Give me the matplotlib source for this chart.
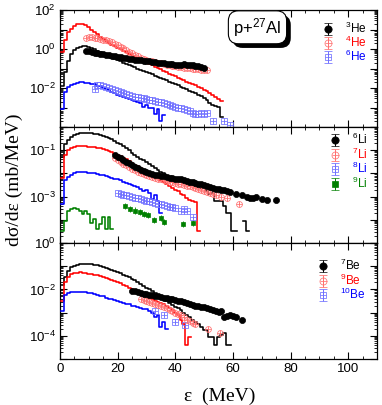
import numpy as np
import matplotlib
matplotlib.use("Agg")
import matplotlib.pyplot as plt
from matplotlib.ticker import MultipleLocator, LogLocator, FuncFormatter, NullFormatter
from matplotlib.legend_handler import HandlerTuple
from matplotlib import patheffects

plt.rcParams['font.family'] = ['Liberation Sans', 'DejaVu Sans']
plt.rcParams['mathtext.fontset'] = 'custom'
plt.rcParams['mathtext.rm'] = 'Liberation Sans'
plt.rcParams['mathtext.it'] = 'Liberation Sans:italic'

# ---------------- data (log10 of dsigma/de, mb/MeV) ----------------
# model histograms: 1-MeV bins starting at 0.5 MeV
he3_model = [-1.9, -1.2, -0.6, -0.25, -0.05, 0.05, 0.1, 0.13, 0.13, 0.1, 0.05, -0.02, -0.08, -0.15,
             -0.22, -0.3, -0.38, -0.45, -0.52, -0.58, -0.64, -0.7, -0.76, -0.82, -0.88, -0.94, -1.0,
             -1.06, -1.12, -1.18, -1.24, -1.3, -1.36, -1.42, -1.48, -1.54, -1.6, -1.67, -1.73, -1.8,
             -1.86, -1.93, -2.0, -2.07, -2.14, -2.2, -2.28, -2.35, -2.42, -2.5, -2.62, -2.75, -2.85,
             -2.9, -2.95, -3.5]
he4_model = [-0.15, 0.45, 0.85, 1.05, 1.18, 1.26, 1.29, 1.27, 1.22, 1.12, 1.0, 0.88, 0.75, 0.62,
             0.52, 0.42, 0.32, 0.23, 0.15, 0.07, -0.01, -0.09, -0.17, -0.25, -0.33, -0.4, -0.47,
             -0.55, -0.62, -0.7, -0.77, -0.84, -0.91, -0.98, -1.05, -1.12, -1.19, -1.26, -1.33, -1.4,
             -1.47, -1.54, -1.6, -1.67, -1.74, -1.8, -1.87, -1.94, -2.01, -2.08, -2.17, -2.25, -2.37,
             -2.45, -2.55, -2.68]
he6_model = [-3.1, -2.2, -1.95, -1.85, -1.78, -1.72, -1.7, -1.7, -1.72, -1.75, -1.8, -1.82, -1.88,
             -1.92, -1.98, -2.05, -2.1, -2.2, -2.28, -2.35, -2.4, -2.45, -2.5, -2.55, -2.62, -2.65,
             -2.72, -2.78, -2.95, -2.85, -3.05, -3.0, -3.35, -3.1, -3.7, -3.4]

li6_model = [-1.3, -0.75, -0.55, -0.42, -0.35, -0.3, -0.27, -0.26, -0.26, -0.27, -0.28, -0.3, -0.32,
             -0.35, -0.38, -0.42, -0.47, -0.52, -0.6, -0.67, -0.75, -0.83, -0.92, -1.0, -1.1, -1.2,
             -1.28, -1.36, -1.44, -1.52, -1.6, -1.68, -1.76, -1.85, -1.93, -2.0, -2.1, -2.17, -2.22,
             -2.27, -2.32, -2.37, -2.4, -2.45, -2.5, -2.52, -2.55, -2.6, -2.65, -2.6, -2.75, -2.9,
             -2.85, -3.2, -3.2, -3.2, -3.4, -3.7, -3.7, -4.5, -4.5, np.nan, np.nan, -4.05, -4.5]
li7_model = [-2.2, -1.2, -1.0, -0.92, -0.87, -0.84, -0.83, -0.83, -0.84, -0.85, -0.86, -0.88, -0.89,
             -0.9, -0.93, -0.97, -1.02, -1.08, -1.15, -1.2, -1.26, -1.33, -1.4, -1.48, -1.56, -1.63,
             -1.7, -1.78, -1.85, -1.92, -1.98, -2.05, -2.12, -2.2, -2.27, -2.35, -2.45, -2.53, -2.62,
             -2.7, -2.78, -2.87, -2.95, -3.05, -3.15, -3.2, -3.25, -4.5]
li8_model = [-3.3, -2.3, -2.15, -2.05, -2.0, -1.95, -1.93, -1.95, -1.93, -1.97, -1.98, -2.0, -2.03,
             -2.05, -2.08, -2.12, -2.15, -2.18, -2.22, -2.25, -2.3, -2.35, -2.4, -2.45, -2.5, -2.55,
             -2.6, -2.68, -2.75, -2.72, -2.85, -3.1, -2.95, -3.2, -3.7]
li9_model = [-4.48, -4.04, -3.6, -3.55, -3.48, -3.55, -3.6, -3.74, -3.6, -3.75, -4.13, -3.96, -4.39,
             -4.17, -3.9, -4.39, -3.9, -4.39]

be7_model = [-1.8, -1.45, -1.2, -1.05, -0.98, -0.93, -0.91, -0.9, -0.9, -0.9, -0.91, -0.93, -0.96,
             -0.99, -1.02, -1.06, -1.1, -1.15, -1.2, -1.25, -1.3, -1.36, -1.42, -1.48, -1.54, -1.6,
             -1.68, -1.76, -1.84, -1.92, -2.0, -2.08, -2.16, -2.24, -2.32, -2.4, -2.5, -2.58, -2.66,
             -2.74, -2.82, -2.9, -3.0, -3.1, -3.2, -3.3, -3.4, -3.5, -3.6, -3.75, -3.75, -4.05, -4.05,
             -4.4, -4.05, -3.95, -3.9, -4.4, -4.4]
be9_model = [-2.5, -1.7, -1.45, -1.35, -1.3, -1.28, -1.27, -1.28, -1.3, -1.32, -1.34, -1.37, -1.4,
             -1.43, -1.46, -1.5, -1.54, -1.58, -1.63, -1.68, -1.74, -1.8, -1.87, -1.94, -2.0, -2.07,
             -2.13, -2.2, -2.25, -2.3, -2.37, -2.42, -2.48, -2.53, -2.58, -2.65, -2.7, -2.8, -2.9,
             -3.0, -3.1, -3.3, -3.5, -4.4, -4.05]
be10_model = [-2.95, -2.25, -2.15, -2.12, -2.1, -2.1, -2.1, -2.1, -2.12, -2.15, -2.17, -2.2, -2.25,
              -2.28, -2.3, -2.35, -2.4, -2.42, -2.45, -2.5, -2.55, -2.57, -2.62, -2.65, -2.7, -2.7,
              -2.75, -2.8, -2.83, -2.85, -2.95, -3.0, -3.2, -3.1, -3.6, -3.4, -3.7]

# experimental points
he3_E = list(range(9, 51))
he3_data = [-0.08, -0.12, -0.15, -0.18, -0.21, -0.24, -0.27, -0.3, -0.33, -0.36, -0.38, -0.41,
            -0.43, -0.45, -0.48, -0.5, -0.52, -0.54, -0.56, -0.58, -0.6, -0.62, -0.64, -0.66, -0.68,
            -0.7, -0.72, -0.73, -0.75, -0.77, -0.78, -0.8, -0.81, -0.8, -0.79, -0.8, -0.81, -0.83,
            -0.85, -0.88, -0.92, -0.95]
he4_E = list(range(9, 52))
he4_data = [0.55, 0.6, 0.6, 0.58, 0.55, 0.52, 0.48, 0.44, 0.4, 0.35, 0.28, 0.2, 0.12, 0.04, -0.05,
            -0.14, -0.22, -0.3, -0.37, -0.44, -0.5, -0.55, -0.6, -0.64, -0.68, -0.71, -0.74, -0.77,
            -0.8, -0.83, -0.86, -0.88, -0.9, -0.93, -0.95, -0.97, -0.99, -1.01, -1.03, -1.05, -1.07,
            -1.09, -1.1]
he6_E = list(range(12, 52)) + [53, 57, 59]
he6_data = [-2.05, -1.85, -1.85, -1.9, -1.95, -2.0, -2.05, -2.1, -2.15, -2.2, -2.25, -2.3, -2.35,
            -2.4, -2.44, -2.47, -2.5, -2.53, -2.56, -2.6, -2.63, -2.66, -2.7, -2.74, -2.78, -2.82,
            -2.86, -2.9, -2.95, -3.0, -3.05, -3.1, -3.15, -3.2, -3.3, -3.35, -3.35, -3.3, -3.35, -3.3,
            -3.7, -3.7, -3.9]

li6_E = list(range(19, 58)) + [58, 59, 61, 63, 65, 66, 67, 68, 70, 72, 75]
li6_data = [-1.22, -1.28, -1.35, -1.42, -1.5, -1.57, -1.65, -1.72, -1.78, -1.84, -1.9, -1.95, -1.99,
            -2.02, -2.05, -2.08, -2.1, -2.13, -2.16, -2.18, -2.2, -2.22, -2.24, -2.26, -2.29, -2.32,
            -2.35, -2.38, -2.41, -2.44, -2.47, -2.5, -2.55, -2.6, -2.63, -2.66, -2.68, -2.7, -2.73,
            -2.78, -2.82, -2.88, -2.95, -3.0, -3.05, -3.05, -3.03, -3.12, -3.13, -3.13]
li7_E = list(range(19, 55)) + [56, 58, 62]
li7_data = [-1.35, -1.42, -1.5, -1.58, -1.65, -1.72, -1.8, -1.86, -1.92, -1.98, -2.03, -2.08, -2.12,
            -2.16, -2.2, -2.23, -2.26, -2.29, -2.32, -2.35, -2.38, -2.41, -2.44, -2.47, -2.5, -2.53,
            -2.56, -2.6, -2.64, -2.68, -2.72, -2.77, -2.82, -2.85, -2.9, -2.95, -3.0, -3.05, -3.3]
li8_E = list(range(20, 41)) + [42, 43, 44, 46]
li8_data = [-2.85, -2.9, -2.93, -2.95, -2.98, -3.0, -3.05, -3.08, -3.12, -3.15, -3.18, -3.2, -3.25,
            -3.28, -3.3, -3.33, -3.37, -3.4, -3.45, -3.45, -3.5, -3.6, -3.55, -3.6, -3.9]
li9_E = [22.6, 24.3, 26, 27.8, 29.3, 30.5, 32.7, 35, 36, 42.6, 46]
li9_data = [-3.39, -3.54, -3.6, -3.68, -3.75, -3.8, -4.0, -3.94, -4.1, -4.2, -4.15]

be7_E = list(range(25, 57)) + [57, 58, 59, 60, 61, 63]
be7_data = [-2.05, -2.08, -2.12, -2.15, -2.18, -2.2, -2.23, -2.26, -2.28, -2.3, -2.33, -2.36, -2.38,
            -2.4, -2.43, -2.46, -2.49, -2.52, -2.55, -2.58, -2.62, -2.66, -2.7, -2.73, -2.75, -2.78,
            -2.8, -2.83, -2.87, -2.92, -2.97, -2.95, -3.2, -3.15, -3.1, -3.15, -3.2, -3.3]
be9_E = list(range(28, 48)) + [51.5, 55.6]
be9_data = [-2.43, -2.47, -2.5, -2.55, -2.6, -2.65, -2.68, -2.72, -2.78, -2.82, -2.87, -2.92, -3.0,
            -3.05, -3.1, -3.2, -3.3, -3.35, -3.45, -3.5, -3.7, -3.9]
be10_E = [33, 36, 40, 43.5]
be10_data = [-2.95, -3.1, -3.4, -3.55]

x_ticks_labeled = [0, 20, 40, 60, 80, 100]

# ---------------- styles ----------------
BLACK, RED, BLUE, GREEN = 'black', '#ff0000', '#0000ff', '#008000'
LRED, LBLUE = '#ff7070', '#7070ff'

W, H = 382, 405
fig = plt.figure(figsize=(W / 100, H / 100), dpi=100)


def axpx(l, t, r, b):
    return fig.add_axes([l / W, 1 - b / H, (r - l) / W, (b - t) / H])


ax1 = axpx(60, 10, 377, 127)
ax2 = axpx(60, 127, 377, 243)
ax3 = axpx(60, 243, 377, 359)


def model(ax, vals, color, start=0.5):
    v = 10 ** np.array(vals, dtype=float)
    edges = start + np.arange(len(v) + 1)
    ax.plot(edges, np.append(v, v[-1]), drawstyle='steps-post', color=color, lw=1.15, zorder=3)


def style_of(kind):
    if kind == 'black':
        return dict(marker='o', ms=4.4, mfc=BLACK, mec=BLACK, mew=0.5), BLACK, None
    if kind == 'red':
        return (dict(marker='o', ms=4.2, mfc='none', mec=LRED, mew=0.55), LRED,
                dict(marker='+', ms=4.2, color=LRED, mew=0.55))
    if kind == 'blue':
        return (dict(marker='s', ms=3.7, mfc='none', mec=LBLUE, mew=0.55), LBLUE,
                dict(marker='+', ms=3.7, color=LBLUE, mew=0.55))
    return dict(marker='s', ms=3.5, mfc=GREEN, mec=GREEN, mew=0.5), GREEN, None


def points(ax, E, vals, kind, rel=0.15):
    y = 10 ** np.array(vals, dtype=float)
    mk, ec, over = style_of(kind)
    ax.errorbar(E, y, yerr=[y * rel / (1 + rel), y * rel], fmt='none', ecolor=ec, elinewidth=0.6, zorder=4)
    ax.plot(E, y, ls='none', zorder=5, **mk)
    if over:
        ax.plot(E, y, ls='none', zorder=5, **over)


def legend_handle(ax, kind):
    mk, ec, over = style_of(kind)
    mk = dict(mk)
    mk['ms'] = mk['ms'] * 1.2
    cont = ax.errorbar([np.nan], [np.nan], yerr=[np.nan], ecolor=ec, elinewidth=0.7, capsize=3,
                       capthick=0.7, ls='none', **mk)
    if over:
        o = dict(over)
        o['ms'] = o['ms'] * 1.2
        ln, = ax.plot([np.nan], [np.nan], ls='none', **o)
        return (cont, ln)
    return cont


def add_legend(ax, kinds, labels, colors, anchor, spacing):
    handles = [legend_handle(ax, k) for k in kinds]
    leg = ax.legend(handles, labels, loc='upper left', bbox_to_anchor=anchor, frameon=False,
                    fontsize=8.5, handlelength=1.0, handletextpad=0.9, labelspacing=spacing,
                    borderpad=0, borderaxespad=0, handler_map={tuple: HandlerTuple(ndivide=1)})
    for t, c in zip(leg.get_texts(), colors):
        t.set_color(c)
    return leg


# ---------------- top panel ----------------
model(ax1, he4_model, RED)
model(ax1, he3_model, BLACK)
model(ax1, he6_model, BLUE)
points(ax1, he6_E, he6_data, 'blue')
points(ax1, he4_E, he4_data, 'red')
points(ax1, he3_E, he3_data, 'black')
add_legend(ax1, ['black', 'red', 'blue'],
           [r'$^{3}$He', r'$^{4}$He', r'$^{6}$He'],
           [BLACK, RED, BLUE], (0.828, 0.906), -0.1)

# reaction box with drop shadow
box_txt = ax1.text(0.623, 0.852, r'p+$^{27}$Al', transform=ax1.transAxes, fontsize=12,
                   ha='center', va='center', color='black', zorder=7,
                   bbox=dict(boxstyle='round,pad=0.3,rounding_size=0.6', fc='white', ec='black', lw=0.8))
box_txt.get_bbox_patch().set_path_effects(
    [patheffects.SimplePatchShadow(offset=(3, -3), shadow_rgbFace='black', alpha=1.0),
     patheffects.Normal()])

# ---------------- middle panel ----------------
model(ax2, li6_model, BLACK)
model(ax2, li7_model, RED)
model(ax2, li8_model, BLUE)
model(ax2, li9_model, GREEN)
points(ax2, li8_E, li8_data, 'blue', 0.2)
points(ax2, li7_E, li7_data, 'red', 0.2)
points(ax2, li6_E, li6_data, 'black', 0.2)
points(ax2, li9_E, li9_data, 'green', 0.35)
add_legend(ax2, ['black', 'red', 'blue', 'green'],
           [r'$^{6}$Li', r'$^{7}$Li', r'$^{8}$Li', r'$^{9}$Li'],
           [BLACK, RED, BLUE, GREEN], (0.850, 0.957), -0.05)

# ---------------- bottom panel ----------------
model(ax3, be7_model, BLACK)
model(ax3, be9_model, RED)
model(ax3, be10_model, BLUE)
points(ax3, be10_E, be10_data, 'blue', 0.2)
points(ax3, be9_E, be9_data, 'red', 0.2)
points(ax3, be7_E, be7_data, 'black', 0.2)
add_legend(ax3, ['black', 'red', 'blue'],
           [r'$^{7}$Be', r'$^{9}$Be', r'$^{10}$Be'],
           [BLACK, RED, BLUE], (0.812, 0.871), -0.05)


# ---------------- axes formatting ----------------
def yfmt(exps):
    def f(v, pos):
        if v <= 0:
            return ''
        e = int(round(np.log10(v)))
        return (r'$\mathregular{10^{%d}}$' % e) if e in exps else ''
    return FuncFormatter(f)


for ax, ylim, exps in [(ax1, (1e-4, 1e2), [2, 0, -2]),
                       (ax2, (1e-5, 1e0), [-1, -3]),
                       (ax3, (1e-5, 1e0), [0, -2, -4])]:
    ax.set_yscale('log')
    ax.set_xlim(0, 110)
    ax.set_ylim(*ylim)
    ax.yaxis.set_major_locator(LogLocator(base=10, numticks=20))
    ax.yaxis.set_minor_locator(LogLocator(base=10, subs=np.arange(2, 10), numticks=20))
    ax.yaxis.set_major_formatter(yfmt(exps))
    ax.yaxis.set_minor_formatter(NullFormatter())
    ax.xaxis.set_major_locator(MultipleLocator(20))
    ax.xaxis.set_minor_locator(MultipleLocator(5))
    ax.tick_params(which='both', direction='in', top=True, right=True, labelsize=9.5, pad=3)
    ax.tick_params(which='major', length=5, width=0.8)
    ax.tick_params(which='minor', length=2.5, width=0.6)
    for s in ax.spines.values():
        s.set_linewidth(0.9)

ax1.tick_params(labelbottom=False)
ax2.tick_params(labelbottom=False)
ax3.set_xticks(x_ticks_labeled)

fig.text(220 / W, 1 - 396 / H, 'ε  (MeV)', family='Liberation Serif', fontsize=14,
         ha='center', va='center')
fig.text(14 / W, 1 - 180 / H, 'dσ/dε (mb/MeV)', family='Liberation Serif', fontsize=14,
         ha='center', va='center', rotation=90)

fig.savefig('out.png', dpi=100, facecolor='white')
